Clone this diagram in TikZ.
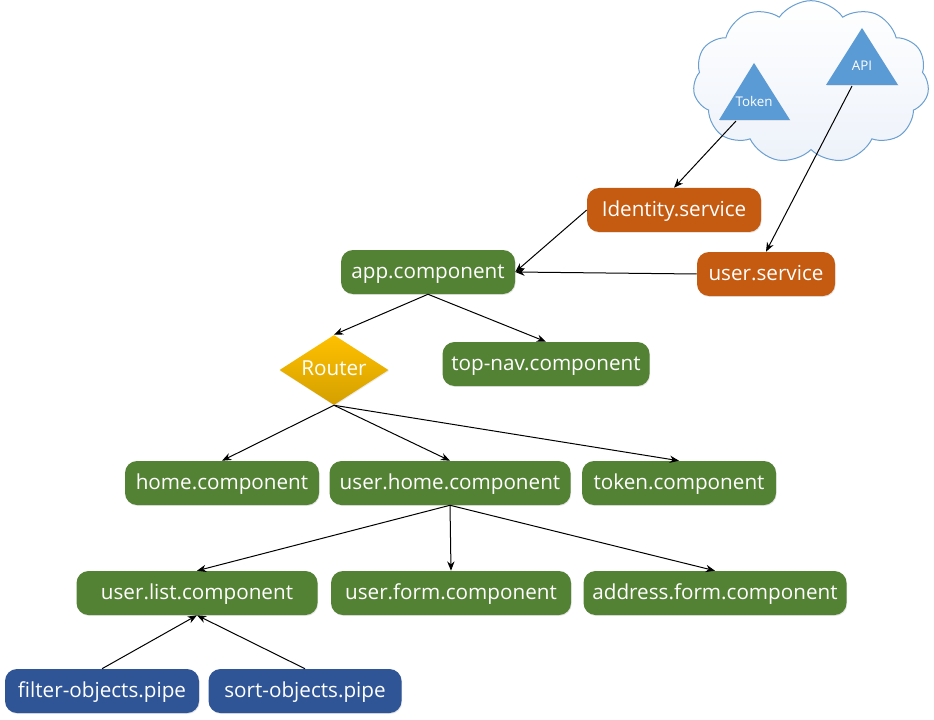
\documentclass[tikz,border=0pt]{standalone}
\usepackage{fontspec}
\setmainfont{Open Sans}
\usetikzlibrary{shapes.geometric,shapes.symbols,arrows.meta,shadows}
\definecolor{cgreen}{HTML}{548235}
\definecolor{corange}{HTML}{C55A11}
\definecolor{cblue}{HTML}{2F5597}
\definecolor{ctri}{HTML}{5B9BD5}
\definecolor{cgoldA}{HTML}{FFC000}
\definecolor{cgoldB}{HTML}{D4A000}
\definecolor{ccloud}{HTML}{6A9FD0}
\definecolor{ccloudfill}{HTML}{EDF2FA}
\tikzset{
  box/.style={rounded corners=9pt, text=white, font=\fontsize{15.5}{18}\selectfont,
    minimum height=33pt, inner sep=0pt, align=center, text height=11.5pt, text depth=2pt,
    drop shadow={shadow xshift=0.5pt, shadow yshift=-0.7pt, opacity=0.25, fill=black!40}},
  gbox/.style={box, fill=cgreen},
  obox/.style={box, fill=corange},
  bbox/.style={box, fill=cblue},
  conn/.style={draw=black, line width=0.75pt, -{Stealth[length=7pt,width=5.5pt]}},
  tri/.style={fill=ctri, drop shadow={shadow xshift=0.5pt, shadow yshift=-0.7pt, opacity=0.2, fill=black!40}},
  tritext/.style={text=white, font=\fontsize{10}{12}\selectfont, inner sep=0pt, text height=7.5pt, text depth=1pt}
}
\begin{document}
\begin{tikzpicture}[x=0.75pt,y=-0.75pt]
\useasboundingbox (0,0) rectangle (934,720);
% cloud
\node[cloud, cloud puffs=11, cloud puff arc=110, aspect=1.44, inner sep=0pt,
  minimum width=177pt, minimum height=122pt, draw=ccloud, line width=0.75pt,
  top color=white, bottom color=ccloudfill] (cloud) at (811,82) {};
% triangles
\fill[tri] (719,120) -- (754,63) -- (790,120) -- cycle;
\fill[tri] (826,85) -- (862,28) -- (898,85) -- cycle;
\node[tritext] (tok) at (754,102) {Token};
\node[tritext] (api) at (862,66) {API};
\coordinate (tokb) at (736,121);
\coordinate (apib) at (852,86);
% nodes
\node[obox, minimum width=130.5pt] (ident) at (674,210) {Identity.service};
\node[obox, minimum width=103.5pt] (usvc) at (766,274) {user.service};
\node[gbox, minimum width=130.5pt] (app) at (428,272) {app.component};
\node[diamond, aspect=1.557, minimum width=81.75pt, minimum height=52.5pt, inner sep=0pt,
  top color=cgoldA, bottom color=cgoldB, text=white, font=\fontsize{15.5}{18}\selectfont,
  text height=10.5pt, text depth=2pt,
  drop shadow={shadow xshift=0.5pt, shadow yshift=-0.7pt, opacity=0.2, fill=black!40}] (router) at (334,370) {Router};
\node[gbox, minimum width=155.25pt] (topnav) at (546,364) {top-nav.component};
\node[gbox, minimum width=145.5pt] (home) at (222,483) {home.component};
\node[gbox, minimum width=180.75pt] (uhome) at (450,483) {user.home.component};
\node[gbox, minimum width=145.5pt] (tokc) at (679,483) {token.component};
\node[gbox, minimum width=180.75pt] (ulist) at (197,593) {user.list.component};
\node[gbox, minimum width=180pt] (uform) at (451,593) {user.form.component};
\node[gbox, minimum width=197.25pt] (aform) at (715,593) {address.form.component};
\node[bbox, minimum width=145.5pt] (filter) at (102,691) {filter-objects.pipe};
\node[bbox, minimum width=144.75pt] (sort) at (305,691) {sort-objects.pipe};
% connectors
\draw[conn] (tokb) -- (ident.north);
\draw[conn] (apib) -- (usvc.north);
\draw[conn] (ident.west) -- (app.east);
\draw[conn] (usvc.west) -- (app.east);
\draw[conn] (app.south) -- (router.north);
\draw[conn] (app.south) -- (topnav.north);
\draw[conn] (router.south) -- (home.north);
\draw[conn] (router.south) -- (uhome.north);
\draw[conn] (router.south) -- (tokc.north);
\draw[conn] (uhome.south) -- (ulist.north);
\draw[conn] (uhome.south) -- (uform.north);
\draw[conn] (uhome.south) -- (aform.north);
\draw[conn] (filter.north) -- (ulist.south);
\draw[conn] (sort.north) -- (ulist.south);
\end{tikzpicture}
\end{document}
